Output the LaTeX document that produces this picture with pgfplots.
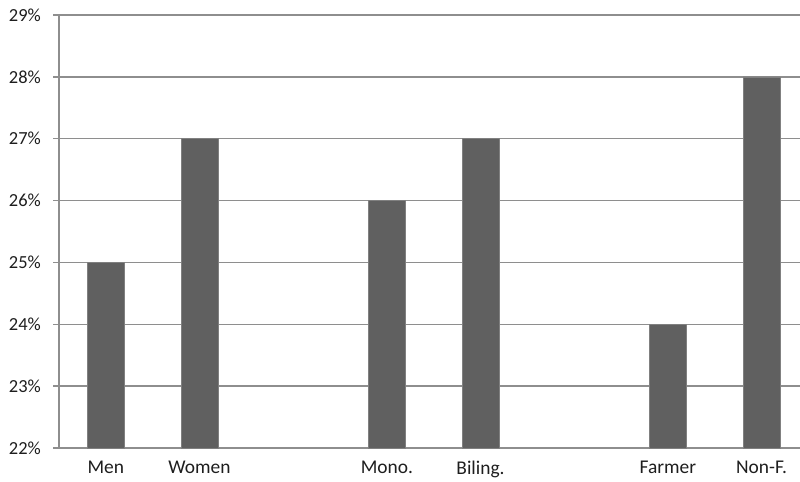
\documentclass[border=0pt]{standalone}
\usepackage{pgfplots}
\pgfplotsset{compat=1.18}
\usepackage{fontspec}
\setmainfont{Carlito}
\definecolor{barc}{HTML}{606060}
\definecolor{gridc}{HTML}{8E8E8E}
\definecolor{txt}{HTML}{1E1E1E}
\begin{document}
\begin{tikzpicture}
\begin{axis}[
  at={(0,0)}, anchor=south west,
  scale only axis,
  width=741bp, height=433bp,
  xmin=-0.5, xmax=7.41,
  ymin=22, ymax=29,
  ytick={22,23,24,25,26,27,28,29},
  yticklabel={\pgfmathprintnumber{\tick}\%},
  /pgf/number format/assume math mode=true,
  xtick={0,1,3,4,6,7},
  xticklabels={Men,Women,Mono.,Biling.,Farmer,Non-F.},
  ymajorgrids,
  grid style={gridc, line width=1.4bp},
  axis x line*=bottom,
  x axis line style={draw=none},
  axis y line*=left,
  y axis line style={gridc, line width=1.4bp},
  ytick style={gridc, line width=1.4bp},
  tick align=outside,
  major tick length=6bp,
  xtick style={draw=none},
  ticklabel style={text=txt},
  yticklabel style={font=\fontsize{18.5}{20}\selectfont, inner sep=0pt, xshift=-12bp},
  xticklabel style={font=\fontsize{19.5}{21}\selectfont, inner sep=0pt, yshift=-7bp},
  clip=false,
]
\addplot[ybar, bar width=37bp, fill=barc, draw=barc!80!white, line width=0.6bp, bar shift=0pt]
  coordinates {(0,25) (1,27) (3,26) (4,27) (6,24) (7,28)};
\end{axis}
\pgfresetboundingbox
\path[use as bounding box] (-59bp,-34bp) rectangle (741bp,448bp);
\end{tikzpicture}
\end{document}
